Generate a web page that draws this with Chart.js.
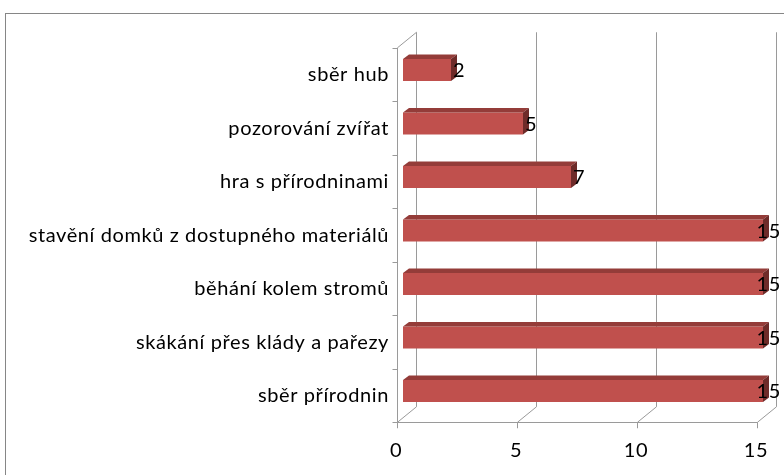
<!DOCTYPE html>
<html>
<head>
<meta charset="utf-8">
<script src="https://cdn.jsdelivr.net/npm/chart.js@4/dist/chart.umd.min.js"></script>
<style>
  html, body { margin: 0; padding: 0; background: #fff; }
  canvas { display: block; }
</style>
</head>
<body>
<canvas id="c" width="784" height="475"></canvas>
<script>
const categories = [
  'sběr hub',
  'pozorování zvířat',
  'hra s přírodninami',
  'stavění domků z dostupného materiálů',
  'běhání kolem stromů',
  'skákání přes klády a pařezy',
  'sběr přírodnin'
];
const values = [2, 5, 7, 15, 15, 15, 15];
const xTicks = [0, 5, 10, 15];

const FONT = { family: 'Lato, "Open Sans", sans-serif', size: 20 };
const SPACING = '0.6px';
const FRONT = { dx: -6, dy: 4.5 };
const BACK = { dx: 13, dy: -11 };
const DEPTH = { dx: 6, dy: -4.5 };
const LINE = '#9a9a9a';

const threeD = {
  id: 'threeD',
  beforeDraw(chart) {
    const ctx = chart.ctx;
    ctx.save();
    ctx.fillStyle = '#fff';
    ctx.fillRect(0, 0, chart.width, chart.height);
    ctx.strokeStyle = '#868686';
    ctx.lineWidth = 1;
    ctx.strokeRect(5.5, 13.5, 900, 600);
    ctx.restore();
    ctx.letterSpacing = SPACING;
  },
  beforeDatasetsDraw(chart) {
    const ctx = chart.ctx;
    const a = chart.chartArea;
    const xs = chart.scales.x;
    ctx.save();
    ctx.strokeStyle = LINE;
    ctx.lineWidth = 1;
    const line = (x1, y1, x2, y2) => {
      ctx.beginPath(); ctx.moveTo(x1, y1); ctx.lineTo(x2, y2); ctx.stroke();
    };
    const fb = a.bottom + FRONT.dy, bb = a.bottom + BACK.dy;
    const ft = a.top + FRONT.dy, bt = a.top + BACK.dy;
    xTicks.forEach(v => {
      const px = xs.getPixelForValue(v);
      const bx = Math.round(px + BACK.dx) + 0.5;
      const fx = Math.round(px + FRONT.dx) + 0.5;
      line(bx, bt, bx, bb);
      line(fx, fb, bx, bb);
      line(fx, fb, fx, fb + 6);
    });
    const fx0 = Math.round(xs.getPixelForValue(xTicks[0]) + FRONT.dx) + 0.5;
    const fxN = Math.round(xs.getPixelForValue(xTicks[xTicks.length - 1]) + FRONT.dx) + 0.5;
    const bx0 = Math.round(xs.getPixelForValue(xTicks[0]) + BACK.dx) + 0.5;
    const yb = Math.round(fb) + 0.5;
    line(fx0, yb, fxN, yb);
    line(fx0, ft, fx0, fb);
    line(fx0, ft, bx0, bt);
    const band = a.height / categories.length;
    for (let i = 0; i <= categories.length; i++) {
      const y = Math.round(a.top + i * band + FRONT.dy) + 0.5;
      line(fx0 - 5, y, fx0, y);
    }
    ctx.restore();
  },
  afterDatasetsDraw(chart) {
    const ctx = chart.ctx;
    const meta = chart.getDatasetMeta(0);
    ctx.save();
    meta.data.forEach((el, i) => {
      const x0 = el.base, x1 = el.x;
      const yT = el.y - el.height / 2, yB = el.y + el.height / 2;
      ctx.fillStyle = '#943c39';
      ctx.beginPath();
      ctx.moveTo(x0, yT); ctx.lineTo(x1, yT);
      ctx.lineTo(x1 + DEPTH.dx, yT + DEPTH.dy);
      ctx.lineTo(x0 + DEPTH.dx, yT + DEPTH.dy);
      ctx.closePath(); ctx.fill();
      ctx.fillStyle = '#6e2b29';
      ctx.beginPath();
      ctx.moveTo(x1, yT); ctx.lineTo(x1 + DEPTH.dx, yT + DEPTH.dy);
      ctx.lineTo(x1 + DEPTH.dx, yB + DEPTH.dy); ctx.lineTo(x1, yB);
      ctx.closePath(); ctx.fill();
    });
    ctx.letterSpacing = SPACING;
    ctx.font = `${FONT.size}px ${FONT.family}`;
    ctx.fillStyle = '#000';
    ctx.textBaseline = 'middle';
    ctx.textAlign = 'left';
    meta.data.forEach((el, i) => {
      const t = String(values[i]);
      const w = ctx.measureText(t).width;
      let x = el.x + 2;
      if (x + w > 781) x = 781 - w;
      ctx.fillText(t, x, el.y + 1);
    });
    ctx.restore();
  }
};

new Chart(document.getElementById('c'), {
  type: 'bar',
  data: {
    labels: categories,
    datasets: [{
      data: values,
      backgroundColor: '#c0504d',
      borderWidth: 0,
      barPercentage: 0.41,
      categoryPercentage: 1
    }]
  },
  options: {
    indexAxis: 'y',
    responsive: false,
    animation: false,
    devicePixelRatio: 1,
    layout: { autoPadding: false, padding: { left: 5, top: 43.25, right: 21, bottom: 0 } },
    plugins: { legend: { display: false }, tooltip: { enabled: false } },
    scales: {
      x: {
        min: 0, max: 15,
        afterBuildTicks: s => { s.ticks = xTicks.map(v => ({ value: v })); },
        afterFit: s => { s.height = 57.25; s.paddingLeft = 0; s.paddingRight = 0; },
        grid: { display: false, drawTicks: false },
        border: { display: false },
        ticks: { font: FONT, color: '#000', padding: 21, labelOffset: -7, maxRotation: 0 }
      },
      y: {
        afterFit: s => { s.width = 398; s.paddingTop = 0; s.paddingBottom = 0; },
        grid: { display: false, drawTicks: false },
        border: { display: false },
        ticks: { font: FONT, color: '#000', padding: 14, labelOffset: 5, autoSkip: false }
      }
    }
  },
  plugins: [threeD]
});
</script>
</body>
</html>
